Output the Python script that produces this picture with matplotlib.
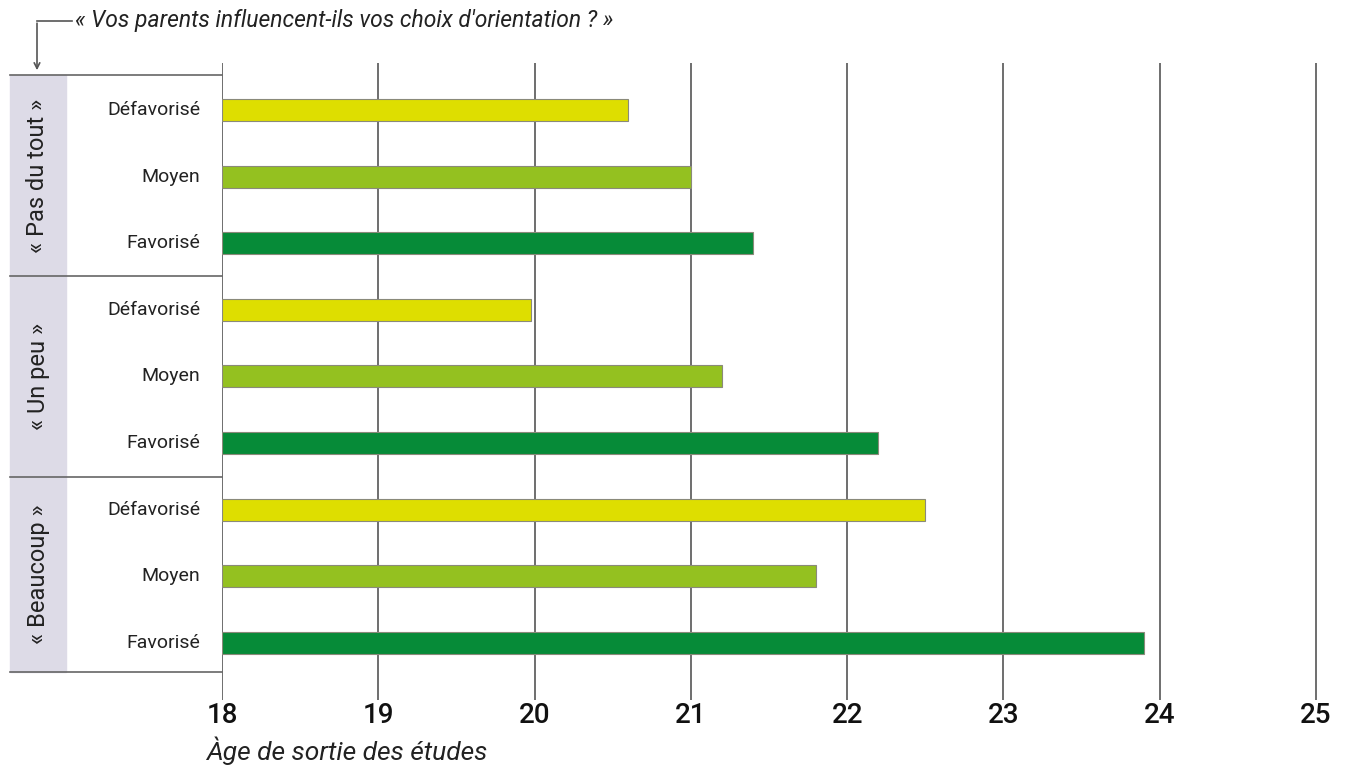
import matplotlib.pyplot as plt
from matplotlib.patches import Rectangle

plt.rcParams['font.family'] = ['Roboto', 'DejaVu Sans']

# données (âge moyen de sortie des études)
groupes = ["« Pas du tout »", "« Un peu »", "« Beaucoup »"]
milieux = ["Défavorisé", "Moyen", "Favorisé"]
pas_du_tout = [20.6, 21.0, 21.4]
un_peu = [19.98, 21.2, 22.2]
beaucoup = [22.5, 21.8, 23.9]
couleurs = ["#dede00", "#94c120", "#068b38"]
xticks = [18, 19, 20, 21, 22, 23, 24, 25]

W, H = 1345, 767
fig = plt.figure(figsize=(W / 100, H / 100), dpi=100)

# axe principal : x de 222 px à 1340 px, y de 63 px à 700 px
x0, x1 = 222, 1340
y0, y1 = 63, 700
ax = fig.add_axes([x0 / W, 1 - y1 / H, (x1 - x0) / W, (y1 - y0) / H])
xmax = 18 + (x1 - x0) / ((1316 - 222) / 7)
ax.set_xlim(18, xmax)
ax.set_ylim(8.86, -0.706)
ax.axis('off')

for v in xticks:
    ax.axvline(v, color='#555555', lw=1.2, zorder=0)
    ax.text(v, 9.1, str(v), ha='center', va='center', fontsize=20,
            fontweight='medium', color='#111111', clip_on=False)

valeurs = [pas_du_tout, un_peu, beaucoup]
pos = 0
for g, vals in enumerate(valeurs):
    for k, v in enumerate(vals):
        ax.barh(pos, v - 18, left=18, height=0.33, color=couleurs[k],
                edgecolor='#8a8a7a', lw=0.8, zorder=2)
        ax.text(17.86, pos, milieux[k], ha='right', va='center', fontsize=14,
                color='#222222', clip_on=False)
        pos += 1

ax.text(17.9, 9.62, "Àge de sortie des études", ha='left', va='center',
        fontsize=19, style='italic', color='#222222', clip_on=False)

# panneau de gauche (bandeau gris + séparateurs)
fx = lambda px: px / W
fy = lambda py: 1 - py / H
bornes = [75, 276, 477, 672]
fig.patches.append(Rectangle((fx(10), fy(672)), fx(66) - fx(10), fy(75) - fy(672),
                             transform=fig.transFigure, color='#dddbe7', zorder=0))
for b in bornes:
    fig.add_artist(plt.Line2D([fx(10), fx(222)], [fy(b), fy(b)], color='#666666', lw=1.2))
for g, nom in enumerate(groupes):
    yc = (bornes[g] + bornes[g + 1]) / 2
    fig.text(fx(38), fy(yc), nom, rotation=90, ha='center', va='center',
             fontsize=17, color='#222222')

# titre avec flèche
fig.text(fx(75), fy(21), "« Vos parents influencent-ils vos choix d'orientation ? »",
         ha='left', va='center', fontsize=16.5, style='italic', color='#222222')
fig.add_artist(plt.Line2D([fx(37), fx(72)], [fy(21), fy(21)], color='#555555', lw=1.2))
ax.annotate('', xy=(fx(37), fy(73)), xytext=(fx(37), fy(20.4)),
            xycoords='figure fraction', textcoords='figure fraction',
            arrowprops=dict(arrowstyle='->', color='#555555', lw=1.2))

fig.savefig('out.png', dpi=100, facecolor='white')
